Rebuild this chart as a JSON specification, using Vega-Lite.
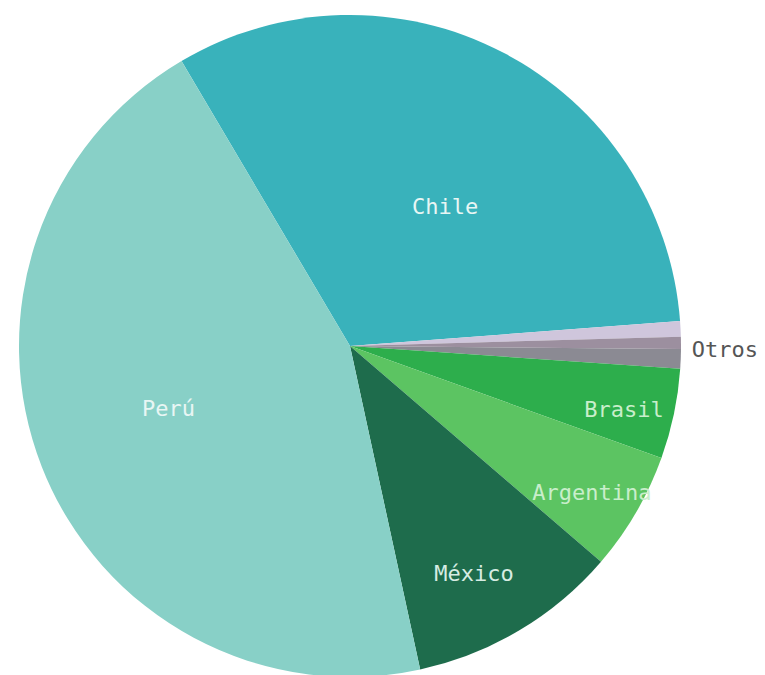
{
  "$schema": "https://vega.github.io/schema/vega-lite/v6.json",
  "autosize": {"type": "none"},
  "width": 700,
  "height": 658,
  "padding": {"left": 0, "top": 17, "right": 65, "bottom": 0},
  "background": "white",
  "config": {"view": {"stroke": null}},
  "data": {
    "values": [
      {"orden": 1, "pais": "Chile", "etiqueta": "Chile", "valor": 32.3},
      {"orden": 2, "pais": "Otros 1", "etiqueta": "", "valor": 0.75},
      {"orden": 3, "pais": "Otros 2", "etiqueta": "Otros", "valor": 0.6},
      {"orden": 4, "pais": "Otros 3", "etiqueta": "", "valor": 0.95},
      {"orden": 5, "pais": "Brasil", "etiqueta": "Brasil", "valor": 4.4},
      {"orden": 6, "pais": "Argentina", "etiqueta": "Argentina", "valor": 5.8},
      {"orden": 7, "pais": "México", "etiqueta": "México", "valor": 10.3},
      {"orden": 8, "pais": "Perú", "etiqueta": "Perú", "valor": 44.9}
    ]
  },
  "encoding": {
    "theta": {"field": "valor", "type": "quantitative", "stack": true, "scale": {"range": [-0.534, 5.749]}},
    "order": {"field": "orden", "type": "quantitative", "sort": "ascending"}
  },
  "layer": [
    {
      "mark": {"type": "arc", "outerRadius": 331, "stroke": null},
      "encoding": {
        "color": {
          "field": "pais",
          "type": "nominal",
          "legend": null,
          "scale": {
            "domain": ["Chile", "Otros 1", "Otros 2", "Otros 3", "Brasil", "Argentina", "México", "Perú"],
            "range": ["#39b2bb", "#cfc6dc", "#9c8f9f", "#8b8a93", "#2dae4c", "#5cc462", "#1e6c4c", "#88d0c7"]
          }
        }
      }
    },
    {
      "mark": {"type": "text", "radius": 180, "dx": 12, "dy": 21, "font": "DejaVu Sans Mono", "fontSize": 22, "fill": "#e8f6f4"},
      "encoding": {
        "text": {"condition": {"test": "datum.pais == 'Chile'", "field": "etiqueta"}, "value": ""}
      }
    },
    {
      "mark": {"type": "text", "radius": 195, "dy": -8, "font": "DejaVu Sans Mono", "fontSize": 22, "fill": "#e8f6f4"},
      "encoding": {
        "text": {"condition": {"test": "datum.pais == 'Perú'", "field": "etiqueta"}, "value": ""}
      }
    },
    {
      "mark": {"type": "text", "radius": 258, "dx": -8, "dy": 6, "font": "DejaVu Sans Mono", "fontSize": 22, "fill": "#d7ece3"},
      "encoding": {
        "text": {"condition": {"test": "datum.pais == 'México'", "field": "etiqueta"}, "value": ""}
      }
    },
    {
      "mark": {"type": "text", "radius": 280, "dy": 6, "font": "DejaVu Sans Mono", "fontSize": 22, "fill": "#c9eecb"},
      "encoding": {
        "text": {"condition": {"test": "datum.pais == 'Argentina' || datum.pais == 'Brasil'", "field": "etiqueta"}, "value": ""}
      }
    },
    {
      "mark": {"type": "text", "radius": 375, "dy": 8, "font": "DejaVu Sans Mono", "fontSize": 22, "fill": "#555555"},
      "encoding": {
        "text": {"condition": {"test": "datum.pais == 'Otros 2'", "field": "etiqueta"}, "value": ""}
      }
    }
  ]
}
